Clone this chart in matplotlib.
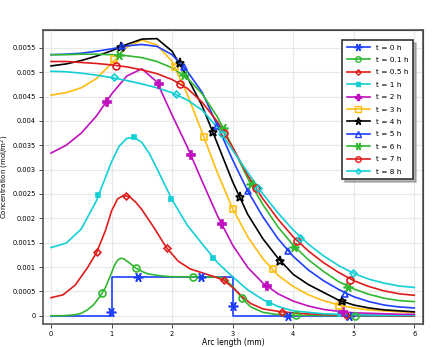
import numpy as np
import matplotlib
matplotlib.use("Agg")
import matplotlib.pyplot as plt
from matplotlib.lines import Line2D
from matplotlib.ticker import FuncFormatter

# arc length grid used by the smoother profiles (mm)
x_grid = [0, 0.25, 0.5, 0.75, 1.0, 1.25, 1.5, 1.75, 2.0, 2.25, 2.5, 2.75, 3.0,
          3.25, 3.5, 3.75, 4.0, 4.25, 4.5, 4.75, 5.0, 5.25, 5.5, 5.75, 6.0]

labels = ["t = 0 h", "t = 0.1 h", "t = 0.5 h", "t = 1 h", "t = 2 h", "t = 3 h",
          "t = 4 h", "t = 5 h", "t = 6 h", "t = 7 h", "t = 8 h"]

# concentration profiles (mol/m^2)
x_t0 = [0, 1, 1, 3, 3, 6]
c_t0 = [0, 0, 0.0008, 0.0008, 0, 0]

x_t01 = [0, 0.2, 0.4, 0.5, 0.6, 0.7, 0.8, 0.9, 1.0, 1.05, 1.1, 1.15, 1.2, 1.3, 1.4,
         1.5, 1.6, 1.8, 2.0, 2.4, 2.8, 2.9, 3.0, 3.1, 3.2, 3.3, 3.5, 3.7, 4.0, 5.0, 6.0]
c_t01 = [0, 0, 0.00002, 0.00005, 0.00012, 0.00022, 0.00038, 0.00058, 0.00088, 0.00104,
         0.00114, 0.00118, 0.00117, 0.00108, 0.00098, 0.00091, 0.00086, 0.00082, 0.0008,
         0.0008, 0.00079, 0.00072, 0.0006, 0.00045, 0.0003, 0.00018, 0.00007, 0.00003,
         0.00001, 0, 0]

x_t05 = [0, 0.2, 0.4, 0.6, 0.75, 0.9, 1.0, 1.1, 1.2, 1.3, 1.4, 1.5, 1.7, 1.9, 2.1, 2.3,
         2.5, 2.7, 2.85, 3.0, 3.15, 3.3, 3.5, 3.8, 4.2, 4.6, 5.0, 6.0]
c_t05 = [0.00037, 0.00043, 0.00063, 0.00098, 0.00129, 0.00175, 0.00215, 0.0024, 0.00247,
         0.00244, 0.00233, 0.00218, 0.00181, 0.00141, 0.00112, 0.00096, 0.00088, 0.0008,
         0.00073, 0.00058, 0.0004, 0.00025, 0.00014, 0.00008, 0.00004, 0.00002, 0.00001, 0]

x_t1 = [0, 0.25, 0.5, 0.75, 1.0, 1.125, 1.25, 1.375, 1.5, 1.625, 1.75, 2.0, 2.25, 2.5,
        2.75, 3.0, 3.25, 3.5, 3.75, 4.0, 4.5, 5.0, 5.5, 6.0]
c_t1 = [0.0014, 0.00149, 0.00178, 0.00236, 0.00316, 0.00348, 0.00364, 0.00366, 0.00356,
        0.00333, 0.00302, 0.00238, 0.00186, 0.00147, 0.00109, 0.0008, 0.00053, 0.00033,
        0.00019, 0.0001, 0.00004, 0.00002, 0.00001, 0.00001]

c_t2 = [0.00334, 0.0035, 0.00375, 0.0041, 0.00455, 0.00492, 0.00507, 0.0048, 0.00412,
        0.00347, 0.00275, 0.00205, 0.00145, 0.00099, 0.00067, 0.00045, 0.0003, 0.0002,
        0.00013, 0.00009, 0.00006, 0.00005, 0.00004, 0.00003, 0.00003]
c_t3 = [0.00453, 0.00458, 0.00468, 0.00487, 0.00518, 0.00551, 0.00566, 0.00556, 0.00522,
        0.00455, 0.00375, 0.00293, 0.0022, 0.00162, 0.00117, 0.00083, 0.0006, 0.00043,
        0.00031, 0.00022, 0.00016, 0.00012, 0.0001, 0.00008, 0.00007]
c_t4 = [0.00513, 0.00517, 0.00524, 0.00533, 0.00544, 0.00557, 0.00568, 0.00569, 0.00543,
        0.0049, 0.0043, 0.00353, 0.00275, 0.00208, 0.00158, 0.00118, 0.00085, 0.00064,
        0.00048, 0.00032, 0.00022, 0.00016, 0.00012, 0.0001, 0.00008]
c_t5 = [0.00536, 0.00537, 0.00539, 0.00543, 0.00548, 0.00554, 0.00557, 0.00553, 0.00536,
        0.00502, 0.00458, 0.0039, 0.0032, 0.00256, 0.00203, 0.00158, 0.00122, 0.00094,
        0.00072, 0.00054, 0.00039, 0.00029, 0.00022, 0.00018, 0.00016]
c_t6 = [0.00536, 0.00536, 0.00537, 0.00537, 0.00536, 0.00534, 0.0053, 0.00522, 0.00509,
        0.00488, 0.00455, 0.00408, 0.00346, 0.00282, 0.00228, 0.00182, 0.00145, 0.00115,
        0.00091, 0.0007, 0.00055, 0.00044, 0.00036, 0.00031, 0.00029]
c_t7 = [0.00522, 0.00522, 0.0052, 0.00518, 0.00515, 0.00511, 0.00505, 0.00497, 0.00485,
        0.00467, 0.00438, 0.00398, 0.00346, 0.00288, 0.0024, 0.00198, 0.00162, 0.00133,
        0.00109, 0.00089, 0.00072, 0.0006, 0.00051, 0.00045, 0.00042]
c_t8 = [0.00502, 0.00501, 0.00498, 0.00494, 0.00489, 0.00483, 0.00476, 0.00468, 0.00458,
        0.00443, 0.00422, 0.00386, 0.0034, 0.00294, 0.0025, 0.00211, 0.00176, 0.00147,
        0.00123, 0.00103, 0.00087, 0.00075, 0.00067, 0.00061, 0.00058]

# marker positions along each profile
mx = [[0.985, 1.43, 2.47, 3.0, 3.92, 4.92],
      [0.84, 1.40, 2.35, 3.15, 4.05, 5.02],
      [0.755, 1.24, 1.91, 2.85, 3.81, 4.88],
      [0.78, 1.375, 1.99, 2.68, 3.6, 4.77],
      [0.92, 1.78, 2.31, 2.82, 3.56, 4.82],
      [1.04, 2.05, 2.53, 3.0, 3.66, 4.76],
      [1.15, 2.13, 2.68, 3.12, 3.79, 4.8],
      [1.17, 2.19, 2.75, 3.26, 3.91, 4.86],
      [1.13, 2.19, 2.84, 3.3, 4.02, 4.9],
      [1.08, 2.13, 2.86, 3.38, 4.07, 4.94],
      [1.04, 2.06, 2.82, 3.42, 4.11, 4.99]]
my = [[0.00007, 0.0008, 0.0008, 0.0002, 0.0, 0.0],
      [0.00046, 0.00098, 0.0008, 0.00036, 0.00001, 0.0],
      [0.0013, 0.00246, 0.0014, 0.00073, 0.00008, 0.00001],
      [0.00248, 0.00366, 0.0024, 0.00118, 0.00027, 0.00003],
      [0.00439, 0.00475, 0.00331, 0.00188, 0.00062, 0.00008],
      [0.00528, 0.0051, 0.00366, 0.0022, 0.00095, 0.0002],
      [0.00552, 0.00518, 0.00377, 0.00243, 0.00112, 0.0003],
      [0.00553, 0.0051, 0.0039, 0.00256, 0.00133, 0.00045],
      [0.00535, 0.00494, 0.00385, 0.0027, 0.00142, 0.0006],
      [0.00513, 0.00476, 0.00376, 0.00262, 0.00154, 0.00073],
      [0.0049, 0.00455, 0.00373, 0.00262, 0.0016, 0.00087]]

xs = [x_t0, x_t01, x_t05, x_t1] + [x_grid] * 7
cs = [c_t0, c_t01, c_t05, c_t1, c_t2, c_t3, c_t4, c_t5, c_t6, c_t7, c_t8]

blue, green, red, cyan = "#1f3fff", "#30b830", "#e01b1b", "#12cfd6"
magenta, yellow, black = "#c010c0", "#ffbd10", "#000000"
colors = [blue, green, red, cyan, magenta, yellow, black, blue, green, red, cyan]
# (marker, size, filled)
styles = [((6, 2, 90), 7, True), ("o", 5, False), ("D", 3.5, False), ("s", 3.5, True),
          ("P", 5.5, True), ("s", 5, False), ("*", 6.5, False), ("^", 5, False),
          ((6, 2, 90), 7, True), ("o", 5, False), ("D", 3.5, False)]

fig = plt.figure(figsize=(4.38, 3.47), dpi=100)
ax = fig.add_axes([43 / 438, 23 / 347, 380 / 438, 294 / 347])

handles = []
for x, c, px, py, col, (m, ms, filled), lab in zip(xs, cs, mx, my, colors, styles, labels):
    ax.plot(x, c, color=col, lw=1.2, zorder=3)
    fc = col if filled else "none"
    ax.plot(px, py, ls="none", marker=m, ms=ms, mec=col, mfc=fc, mew=1.2, zorder=4)
    handles.append(Line2D([0], [0], color=col, lw=1.2, marker=m, ms=ms * 0.8,
                          mec=col, mfc=fc, mew=1.0))

ax.set_xlim(-0.132, 6.144)
ax.set_ylim(-0.00017, 0.005867)
ax.set_xticks(range(0, 7))
ax.set_yticks(np.arange(0, 0.0056, 0.0005))
ax.yaxis.set_major_formatter(FuncFormatter(lambda v, p: "0" if abs(v) < 1e-12 else f"{v:g}"))
ax.grid(True, color="#e8e8e8", lw=0.8, zorder=0)
ax.tick_params(labelsize=4.8, length=3, width=0.7, color="#444444", pad=2)

for s in ax.spines.values():
    s.set_color("#555555")
    s.set_linewidth(1.2)

top = ax.secondary_xaxis("top")
top.set_xticks(range(0, 7))
top.tick_params(direction="in", length=3, width=0.7, color="#444444", labeltop=False)
right = ax.secondary_yaxis("right")
right.set_yticks(np.arange(0, 0.0056, 0.0005))
right.tick_params(direction="in", length=3, width=0.7, color="#444444", labelright=False)

ax.set_xlabel("Arc length (mm)", fontsize=5.5, labelpad=1)
ax.set_ylabel("Concentration (mol/m$^2$)", fontsize=5.0)
ax.yaxis.set_label_coords(-0.083, 0.5)

leg = ax.legend(handles=handles, labels=labels, loc="upper right",
                bbox_to_anchor=(0.974, 0.966), borderaxespad=0, fontsize=5.3,
                handlelength=3.2, labelspacing=0.85, handletextpad=0.8,
                borderpad=0.6, fancybox=False, shadow={"color": "#777777"},
                framealpha=1)
leg.get_frame().set_edgecolor("#333333")
leg.get_frame().set_linewidth(1.2)
leg.set_zorder(10)

fig.savefig("out.png", dpi=100)
